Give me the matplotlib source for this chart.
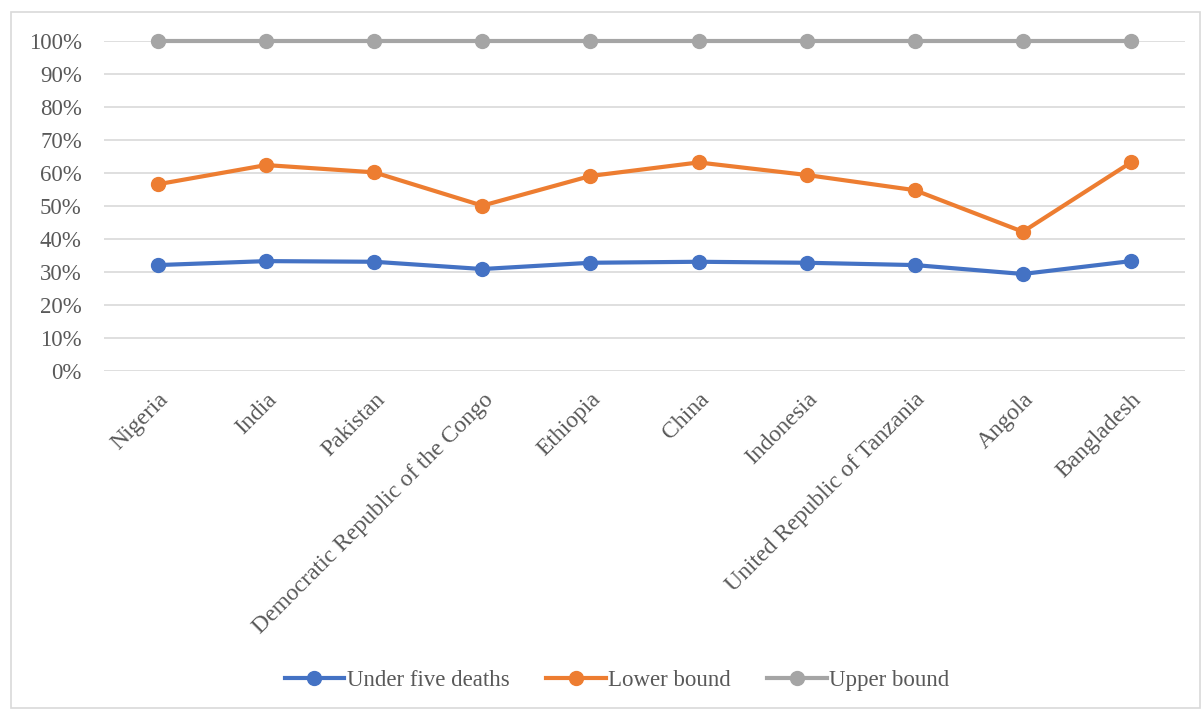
import matplotlib
matplotlib.use("Agg")
from matplotlib import pyplot as plt
from matplotlib.patches import Rectangle
from matplotlib.ticker import PercentFormatter

countries = [
    "Nigeria", "India", "Pakistan", "Democratic Republic of the Congo",
    "Ethiopia", "China", "Indonesia", "United Republic of Tanzania",
    "Angola", "Bangladesh",
]
under_five = [0.321, 0.333, 0.331, 0.309, 0.328, 0.331, 0.328, 0.321, 0.294, 0.333]
lower_bound = [0.566, 0.624, 0.602, 0.501, 0.591, 0.632, 0.594, 0.548, 0.422, 0.632]
upper_bound = [1.0] * 10

series = [
    ("Under five deaths", under_five, "#4472C4"),
    ("Lower bound", lower_bound, "#ED7D31"),
    ("Upper bound", upper_bound, "#A5A5A5"),
]

plt.rcParams["font.family"] = ["Liberation Serif", "DejaVu Serif"]
text_color = "#595959"
fsize = 16.5

fig = plt.figure(figsize=(12.02, 7.11), dpi=100)
ax = fig.add_axes([104 / 1202, 1 - 371 / 711, 1081 / 1202, 330 / 711])

x = list(range(len(countries)))
for label, values, color in series:
    ax.plot(x, values, color=color, linewidth=3, marker="o",
            markersize=10, label=label, clip_on=False, zorder=3)

ax.set_xlim(-0.5, len(countries) - 0.5)
ax.set_ylim(0, 1)
ax.set_yticks([i / 10 for i in range(11)])
ax.yaxis.set_major_formatter(PercentFormatter(1.0, decimals=0))
ax.grid(axis="y", color="#D9D9D9", linewidth=1.2)
ax.set_axisbelow(True)
for side in ax.spines.values():
    side.set_visible(False)
ax.tick_params(axis="both", length=0, labelsize=fsize, labelcolor=text_color)
ax.tick_params(axis="y", pad=16)
ax.set_xticks(x)
ax.set_xticklabels(countries, rotation=45, ha="right", rotation_mode="anchor",
                   fontsize=17)
ax.tick_params(axis="x", pad=13)

leg = fig.legend(loc="center", bbox_to_anchor=(617 / 1202, 1 - 680 / 711),
                 ncol=3, frameon=False, fontsize=fsize, handlelength=2.6,
                 handletextpad=0.1, columnspacing=1.6, labelcolor=text_color)

fig.patches.append(Rectangle((11 / 1202, 3 / 711), 1189 / 1202, 696 / 711,
                             transform=fig.transFigure, fill=False,
                             edgecolor="#D9D9D9", linewidth=1.2))

fig.savefig("out.png", dpi=100)
